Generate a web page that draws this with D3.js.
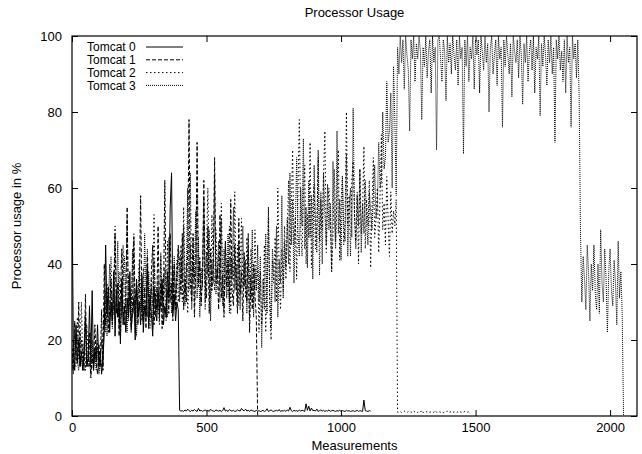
<!DOCTYPE html>
<html>
<head>
<meta charset="utf-8">
<script src="https://cdn.jsdelivr.net/npm/d3@7"></script>
<style>
  body { margin: 0; background: #fff; }
  text { font-family: "Liberation Sans", Arial, Helvetica, sans-serif; }
</style>
</head>
<body>
<div id="chart"></div>
<script>
// sampling step of the measurement index (one value every 5 measurements)
const STEP = 5;

// series names, as in the key
const SERIES = ["Tomcat 0", "Tomcat 1", "Tomcat 2", "Tomcat 3"];

// processor usage in %
const TOMCAT_0 = [
  62, 18, 12, 24, 14, 20, 13, 17, 12, 16, 26, 13, 15, 29, 14, 33, 12, 18, 15, 24, 13, 17, 11, 15,
  22, 45, 27, 34, 22, 30, 25, 38, 21, 33,
  26, 30, 19, 36, 24, 29, 22, 31, 26, 38,
  23, 27, 31, 20, 35, 26, 30, 24, 37, 22,
  29, 26, 40, 23, 32, 27, 21, 34, 28, 25,
  33, 27, 30, 36, 24, 29, 26, 38, 31, 55,
  64, 27, 32, 25, 30, 28,
  1.5, 1.3, 1.4, 1.2, 1.6, 1.3, 1.8, 1.4, 1.2, 1.5,
  1.3, 1.7, 1.4, 1.2, 2.0, 1.3, 1.5, 1.2, 1.4, 1.6,
  1.3, 1.5, 1.2, 1.8, 1.4, 1.3, 1.2, 1.6, 1.4, 1.3,
  1.5, 1.2, 1.4, 2.2, 1.3, 1.5, 1.2, 1.7, 1.4, 1.3,
  1.5, 1.2, 1.3, 1.6, 1.4, 1.3, 2.0, 1.5, 1.4, 1.8,
  1.3, 1.5, 1.2, 1.6, 1.4, 1.3, 1.2, 1.5, 1.3, 1.4,
  1.2, 1.3, 1.5, 1.2, 1.4, 1.9, 1.2, 1.4, 1.6, 1.3,
  1.2, 1.4, 1.5, 1.3, 1.7, 1.2, 1.4, 1.3, 1.5, 1.2,
  1.6, 1.3, 2.3, 1.4, 1.2, 1.5, 1.3, 1.4, 1.2, 1.6,
  1.3, 1.5, 1.4, 1.2, 3.2, 1.5, 2.6, 1.3, 2.1, 1.4,
  1.5, 1.3, 1.8, 1.2, 1.4, 1.6, 1.3, 1.5, 1.2, 1.4,
  1.3, 1.6, 1.2, 1.4, 1.5, 1.3, 1.2, 1.4, 1.3, 1.5,
  1.2, 1.4, 1.3, 1.2, 1.5, 1.3, 1.4, 1.2, 1.3, 1.4,
  1.2, 1.3, 1.5, 1.2, 1.4, 1.3, 1.2, 4.2, 1.4, 1.3,
  1.2, 1.4, 1.3
];

const TOMCAT_1 = [
  18, 12, 25, 15, 14, 30, 13, 20, 17, 12, 32, 15, 13, 22, 10, 16, 12, 24, 14, 11, 19, 13, 28, 12,
  40, 24, 31, 22, 28, 36, 25, 30, 48, 27,
  35, 21, 32, 44, 28, 24, 30, 55, 26, 33,
  22, 29, 47, 26, 36, 24, 31, 58, 27, 25,
  34, 23, 42, 30, 26, 38, 45, 24, 32, 28,
  50, 26, 35, 23, 30, 62, 29, 33, 27, 48,
  31, 25, 40, 28, 36, 45,
  40, 32, 48, 28, 36, 30, 44, 78, 35, 30,
  48, 26, 38, 72, 34, 41, 29, 37, 62, 36,
  31, 50, 27, 44, 33, 39, 68, 35, 39, 28,
  53, 31, 37, 26, 46, 34, 41, 30, 57, 33,
  29, 45, 36, 27, 52, 32, 38, 25, 43, 35,
  30, 48, 22, 37, 28, 40, 32, 26,
  0
];

const TOMCAT_2 = [
  12, 20, 14, 13, 26, 15, 18, 30, 14, 19, 12, 24, 16, 13, 22, 16, 12, 18, 14, 20, 12, 15, 13, 17,
  30, 22, 35, 25, 28, 42, 24, 31, 50, 30,
  26, 38, 21, 33, 45, 27, 32, 52, 25, 34,
  29, 40, 48, 22, 36, 28, 41, 33, 25, 39,
  30, 27, 44, 31, 23, 36, 29, 53, 26, 34,
  30, 24, 42, 28, 37, 32, 25, 46, 30, 35,
  27, 39, 33, 28, 41, 30,
  36, 45, 30, 55, 33, 40, 27, 38, 64, 32,
  47, 29, 41, 58, 35, 42, 30, 37, 51, 28,
  44, 60, 34, 31, 53, 39, 33, 49, 36, 43,
  30, 56, 35, 28, 46, 38, 32, 50, 27, 41,
  36, 59, 33, 45, 29, 38, 52, 34, 40, 31,
  47, 35, 26, 44, 37, 30, 49, 33, 39, 22,
  38, 24, 30, 45, 22, 36, 52, 28, 20, 41,
  35, 47, 30, 60, 38, 28, 44, 33, 50, 36,
  48, 62, 38, 55, 70, 45, 52, 36, 60, 78,
  50, 42, 58, 66, 40, 53, 47, 72, 39, 56,
  61, 44, 50, 68, 37, 57, 49, 64, 75, 43,
  55, 60, 52, 38, 47, 65, 46, 58, 70, 41,
  56, 63, 45, 51, 80, 50, 58, 42, 62, 67,
  53, 46, 59, 40, 65, 48, 54, 71, 44, 57,
  50, 62, 39, 55, 68, 47, 52, 60, 43, 58,
  74, 49, 56, 45, 63, 51, 42, 59, 48, 54,
  50, 57,
  1,
  1.0, 1.2, 0.9, 1.1, 1.3, 1.0, 0.9, 1.2, 1.0, 1.1,
  0.9, 1.3, 1.0, 1.2, 0.9, 1.1, 1.0, 1.5, 0.9, 1.1,
  1.0, 1.2, 0.9, 1.0, 1.1, 0.9, 1.0, 1.4, 1.0, 0.9,
  1.1, 1.0, 1.2, 0.9, 1.0, 1.1, 1.3, 0.9, 1.0, 1.2,
  0.9, 1.1, 1.0, 0.9, 1.2, 1.0, 1.1, 0.9, 1.0, 1.2,
  0.9, 1.0, 1.1, 1.0
];

const TOMCAT_3 = [
  16, 11, 22, 18, 14, 12, 22, 15, 12, 19, 27, 13, 17, 14, 11, 20, 13, 16, 12, 18, 11, 14, 20, 13,
  26, 33, 21, 29, 40, 28, 23, 36, 27, 32,
  46, 24, 31, 26, 35, 42, 29, 22, 37, 30,
  25, 44, 27, 33, 21, 30, 39, 28, 35, 24,
  48, 32, 26, 38, 29, 34, 23, 41, 30, 27,
  36, 25, 43, 31, 28, 39, 33, 26, 47, 30,
  35, 28, 42, 31, 38, 44,
  30, 42, 35, 50, 29, 38, 60, 33, 45, 28,
  40, 36, 54, 31, 47, 26, 39, 34, 57, 30,
  43, 37, 49, 25, 41, 35, 63, 32, 38, 46,
  34, 52, 29, 44, 37, 31, 48, 27, 42, 36,
  55, 33, 40, 30, 46, 28, 38, 50, 34, 41,
  27, 44, 36, 31, 49, 26, 39, 33, 45, 30,
  42, 18, 36, 28, 48, 27, 55, 33, 23, 44,
  38, 30, 50, 26, 41, 35, 58, 31, 46, 39,
  52, 40, 64, 45, 57, 35, 50, 68, 48, 42,
  60, 50, 73, 44, 55, 39, 62, 47, 58, 36,
  66, 51, 43, 70, 46, 59, 40, 64, 53, 45,
  61, 49, 56, 38, 67, 52, 44, 75, 48, 57,
  41, 63, 50, 46, 69, 42, 55, 60, 47, 81,
  53, 44, 58, 50, 65, 43, 56, 48, 62, 51,
  45, 59, 54, 49,
  58, 66, 52, 55, 72, 60, 62, 80, 65, 68,
  88, 72, 75, 85, 60, 92, 78, 58,
  97, 90, 100, 93, 99, 86, 100, 95, 91, 75,
  99, 94, 100, 88, 98, 94, 100, 96, 78, 97,
  92, 100, 89, 96, 99, 85, 100, 93, 97, 70,
  99, 100, 94, 88, 99, 96, 83, 100, 93, 98,
  90, 100, 95, 91, 99, 87, 100, 94, 97, 69,
  99, 92, 100, 88, 97, 94, 100, 86, 99, 95,
  99, 85, 100, 96, 91, 100, 93, 98, 80, 97,
  100, 90, 95, 99, 87, 100, 94, 97, 76, 99,
  92, 100, 95, 90, 98, 84, 100, 96, 93, 99,
  89, 100, 95, 82, 98, 93, 100, 88, 96, 99,
  91, 100, 85, 97, 94, 100, 79, 98, 92, 100,
  95, 87, 99, 93, 100, 90, 97, 72, 99, 94,
  100, 91, 96, 88, 99, 85, 100, 93, 97, 76,
  100, 94, 98, 89, 99, 84,
  48, 30, 42, 36, 28, 45, 38, 25, 40, 33,
  45, 32, 28, 40, 27, 49, 35, 30, 44, 36,
  22, 38, 44, 33, 29, 41, 35, 24, 46, 31,
  38, 27,
  0
];

// tick values
const X_TICKS = [0, 500, 1000, 1500, 2000];
const Y_TICKS = [0, 20, 40, 60, 80, 100];

// frame and margins
const FRAME_WIDTH = 642;
const FRAME_HEIGHT = 454;
const MARGINS = {left: 72, right: 5, top: 36, bottom: 38};

const VIS_WIDTH = FRAME_WIDTH - MARGINS.left - MARGINS.right;
const VIS_HEIGHT = FRAME_HEIGHT - MARGINS.top - MARGINS.bottom;

// line styles for the four series (gnuplot-like)
const DASHES = [null, "4,2", "1.5,2.5", "1,1"];

const FRAME1 = d3.select("#chart")
                  .append("svg")
                    .attr("width", FRAME_WIDTH)
                    .attr("height", FRAME_HEIGHT);

const X_SCALE = d3.scaleLinear()
        .domain([0, 2100])
        .range([0, VIS_WIDTH]);

const Y_SCALE = d3.scaleLinear()
        .domain([0, 100])
        .range([VIS_HEIGHT, 0]);

const PLOT = FRAME1.append("g")
        .attr("transform", "translate(" + MARGINS.left + "," + MARGINS.top + ")");

// clip so nothing leaves the box
PLOT.append("clipPath").attr("id", "clip")
  .append("rect")
    .attr("width", VIS_WIDTH)
    .attr("height", VIS_HEIGHT);

const line = d3.line()
        .x((d, i) => X_SCALE(i * STEP))
        .y((d) => Y_SCALE(d));

const allData = [TOMCAT_0, TOMCAT_1, TOMCAT_2, TOMCAT_3];

PLOT.append("g").attr("clip-path", "url(#clip)")
  .selectAll("path")
  .data(allData)
  .enter()
  .append("path")
    .attr("d", (d) => line(d))
    .attr("fill", "none")
    .attr("stroke", "#000")
    .attr("stroke-width", 1)
    .attr("stroke-dasharray", (d, i) => DASHES[i]);

// axes, ticks drawn inward like gnuplot
PLOT.append("g")
    .attr("transform", "translate(0," + VIS_HEIGHT + ")")
    .call(d3.axisBottom(X_SCALE).tickValues(X_TICKS).tickFormat(d3.format("d"))
            .tickSizeInner(-6).tickSizeOuter(0).tickPadding(7));

PLOT.append("g")
    .call(d3.axisLeft(Y_SCALE).tickValues(Y_TICKS).tickFormat(d3.format("d"))
            .tickSizeInner(-6).tickSizeOuter(0).tickPadding(10));

PLOT.append("g")
    .call(d3.axisTop(X_SCALE).tickValues(X_TICKS).tickSizeInner(-6).tickSizeOuter(0).tickFormat(""));

PLOT.append("g")
    .attr("transform", "translate(" + VIS_WIDTH + ",0)")
    .call(d3.axisRight(Y_SCALE).tickValues(Y_TICKS).tickSizeInner(-6).tickSizeOuter(0).tickFormat(""));

PLOT.selectAll(".domain").remove();
PLOT.selectAll(".tick line").attr("stroke", "#000");
PLOT.selectAll(".tick text")
    .attr("font-size", "13px")
    .attr("fill", "#000")
    .style("font-family", "'Liberation Sans', Arial, sans-serif");

// border
PLOT.append("rect")
    .attr("width", VIS_WIDTH)
    .attr("height", VIS_HEIGHT)
    .attr("fill", "none")
    .attr("stroke", "#000")
    .attr("stroke-width", 1.2);

// key
const KEY = PLOT.append("g").attr("transform", "translate(15,11)");
SERIES.forEach((name, i) => {
    KEY.append("text")
        .attr("x", 0)
        .attr("y", i * 12.8)
        .attr("dy", "0.35em")
        .attr("font-size", "12px")
        .text(name);
    KEY.append("line")
        .attr("x1", 59).attr("x2", 96)
        .attr("y1", i * 12.8).attr("y2", i * 12.8)
        .attr("stroke", "#000")
        .attr("stroke-width", 1)
        .attr("stroke-dasharray", DASHES[i]);
});

// titles
FRAME1.append("text")
    .attr("x", MARGINS.left + VIS_WIDTH / 2)
    .attr("y", 17)
    .attr("text-anchor", "middle")
    .attr("font-size", "13px")
    .text("Processor Usage");

FRAME1.append("text")
    .attr("x", MARGINS.left + VIS_WIDTH / 2)
    .attr("y", 450)
    .attr("text-anchor", "middle")
    .attr("font-size", "13px")
    .text("Measurements");

FRAME1.append("text")
    .attr("transform", "translate(21," + (MARGINS.top + VIS_HEIGHT / 2) + ") rotate(-90)")
    .attr("text-anchor", "middle")
    .attr("font-size", "13px")
    .text("Processor usage in %");
</script>
</body>
</html>
